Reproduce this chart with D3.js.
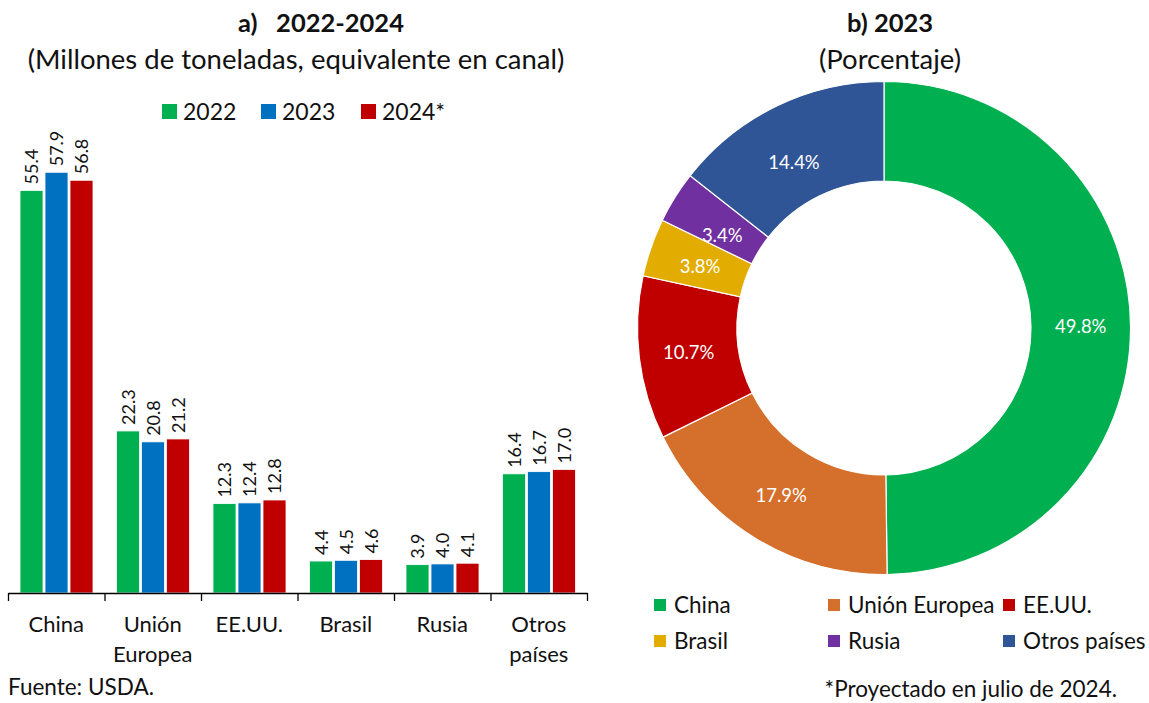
<!DOCTYPE html>
<html>
<head>
<meta charset="utf-8">
<script src="https://cdn.jsdelivr.net/npm/d3@7"></script>
<style>
  html, body { margin: 0; padding: 0; background: #fff; }
  svg { display: block; font-family: Lato, "Noto Sans", sans-serif; }
</style>
</head>
<body>
<svg id="chart" width="1149" height="703"></svg>
<script>
// ---------- DATA ----------
const categories = ["China", "Unión Europea", "EE.UU.", "Brasil", "Rusia", "Otros países"];
const categoryLines = [["China"], ["Unión", "Europea"], ["EE.UU."], ["Brasil"], ["Rusia"], ["Otros", "países"]];
const seriesNames = ["2022", "2023", "2024*"];
const values2022 = [55.4, 22.3, 12.3, 4.4, 3.9, 16.4];
const values2023 = [57.9, 20.8, 12.4, 4.5, 4.0, 16.7];
const values2024 = [56.8, 21.2, 12.8, 4.6, 4.1, 17.0];
const shareNames = ["China", "Unión Europea", "EE.UU.", "Brasil", "Rusia", "Otros países"];
const shares2023 = [49.8, 17.9, 10.7, 3.8, 3.4, 14.4];

const seriesColors = ["#00B050", "#0070C0", "#C00000"];
const shareColors = ["#00B050", "#D5702C", "#C00000", "#E3AC00", "#7030A0", "#2F5597"];

const svg = d3.select("#chart");
const textColor = "#111";

// ---------- LEFT: BAR CHART ----------
const seriesValues = [values2022, values2023, values2024];
const x0 = d3.scaleBand().domain(categories).range([8, 587]).paddingInner(0).paddingOuter(0);
const x1 = d3.scaleBand().domain(seriesNames).range([12, 85]).paddingInner(0.08);
const y = d3.scaleLinear().domain([0, 60]).range([593, 157]);

svg.append("text").attr("x", 321).attr("y", 32).attr("text-anchor", "middle")
  .attr("font-size", 25.5).attr("font-weight", "bold").attr("fill", textColor)
  .attr("xml:space", "preserve").text("a)   2022-2024");
svg.append("text").attr("x", 296).attr("y", 69).attr("text-anchor", "middle")
  .attr("font-size", 27.5).attr("fill", textColor)
  .text("(Millones de toneladas, equivalente en canal)");

// legend
const legBar = svg.append("g");
const legX = [162, 261, 361];
seriesNames.forEach((s, i) => {
  legBar.append("rect").attr("x", legX[i]).attr("y", 104).attr("width", 15).attr("height", 15).attr("fill", seriesColors[i]);
  legBar.append("text").attr("x", legX[i] + 21).attr("y", 119.5).attr("font-size", 23).attr("fill", textColor).text(s);
});

const groups = svg.append("g").selectAll("g").data(categories).join("g")
  .attr("transform", d => `translate(${x0(d)},0)`);

groups.each(function (cat, ci) {
  const g = d3.select(this);
  seriesNames.forEach((s, si) => {
    const v = seriesValues[si][ci];
    g.append("rect")
      .attr("x", x1(s)).attr("y", y(v))
      .attr("width", x1.bandwidth()).attr("height", y(0) - y(v))
      .attr("fill", seriesColors[si])
      .attr("stroke", "#fff").attr("stroke-width", 0.8);
    const cx = x1(s) + x1.bandwidth() / 2;
    g.append("text")
      .attr("transform", `translate(${cx + 6.5},${y(v) - 6}) rotate(-90)`)
      .attr("font-size", 18).attr("fill", textColor)
      .text(v.toFixed(1));
  });
});

// axis with ticks at group boundaries
const bScale = d3.scaleLinear().domain([0, categories.length]).range([8, 587]);
const axis = svg.append("g").attr("transform", `translate(0,${y(0)})`)
  .call(d3.axisBottom(bScale).tickValues(d3.range(0, categories.length + 1)).tickFormat("").tickSize(8).tickSizeOuter(0));
axis.select(".domain").attr("stroke", "#000").attr("stroke-width", 1.3);
axis.selectAll(".tick line").attr("stroke", "#000").attr("stroke-width", 1.3);

categories.forEach((c, i) => {
  const t = svg.append("text").attr("x", x0(c) + x0.bandwidth() / 2).attr("y", 632)
    .attr("text-anchor", "middle").attr("font-size", 22).attr("fill", textColor);
  categoryLines[i].forEach((ln, li) => {
    t.append("tspan").attr("x", x0(c) + x0.bandwidth() / 2).attr("dy", li === 0 ? 0 : 30).text(ln);
  });
});

svg.append("text").attr("x", 8).attr("y", 695).attr("font-size", 22.5).attr("fill", textColor).text("Fuente: USDA.");

// ---------- RIGHT: DONUT ----------
const cx = 884, cy = 328;
svg.append("text").attr("x", cx + 6).attr("y", 32).attr("text-anchor", "middle")
  .attr("font-size", 25.5).attr("font-weight", "bold").attr("fill", textColor).text("b) 2023");
svg.append("text").attr("x", cx + 6).attr("y", 69).attr("text-anchor", "middle")
  .attr("font-size", 27.5).attr("fill", textColor).text("(Porcentaje)");

const pie = d3.pie().sort(null).value(d => d).startAngle(0).endAngle(2 * Math.PI);
const arcs = pie(shares2023);
const arc = d3.arc().innerRadius(147).outerRadius(246.5);

// small label nudges (best-fit placement of the original) for the narrow slices
const labelNudge = { 3: [2, 3], 4: [5, 12], 5: [-4, 11] };

const dg = svg.append("g").attr("transform", `translate(${cx},${cy})`);
dg.selectAll("path").data(arcs).join("path")
  .attr("d", arc)
  .attr("fill", (d, i) => shareColors[i])
  .attr("stroke", "#fff").attr("stroke-width", 1.2);

dg.selectAll("text").data(arcs).join("text")
  .attr("transform", (d, i) => {
    const c = arc.centroid(d);
    const n = labelNudge[i] || [0, 0];
    return `translate(${c[0] + n[0]},${c[1] + n[1]})`;
  })
  .attr("text-anchor", "middle").attr("dy", "0.35em")
  .attr("font-size", 18.5).attr("fill", "#fff")
  .text(d => d.data.toFixed(1) + "%");

// legend
const legCols = [654, 828, 1003];
const legRows = [605, 641];
shareNames.forEach((n, i) => {
  const lx = legCols[i % 3], ly = legRows[Math.floor(i / 3)];
  svg.append("rect").attr("x", lx).attr("y", ly - 6).attr("width", 12).attr("height", 12).attr("fill", shareColors[i]);
  svg.append("text").attr("x", lx + 20).attr("y", ly + 7.5).attr("font-size", 22.5).attr("fill", textColor).text(n);
});

svg.append("text").attr("x", 1117).attr("y", 697).attr("text-anchor", "end")
  .attr("font-size", 22.5).attr("fill", textColor).text("*Proyectado en julio de 2024.");
</script>
</body>
</html>
